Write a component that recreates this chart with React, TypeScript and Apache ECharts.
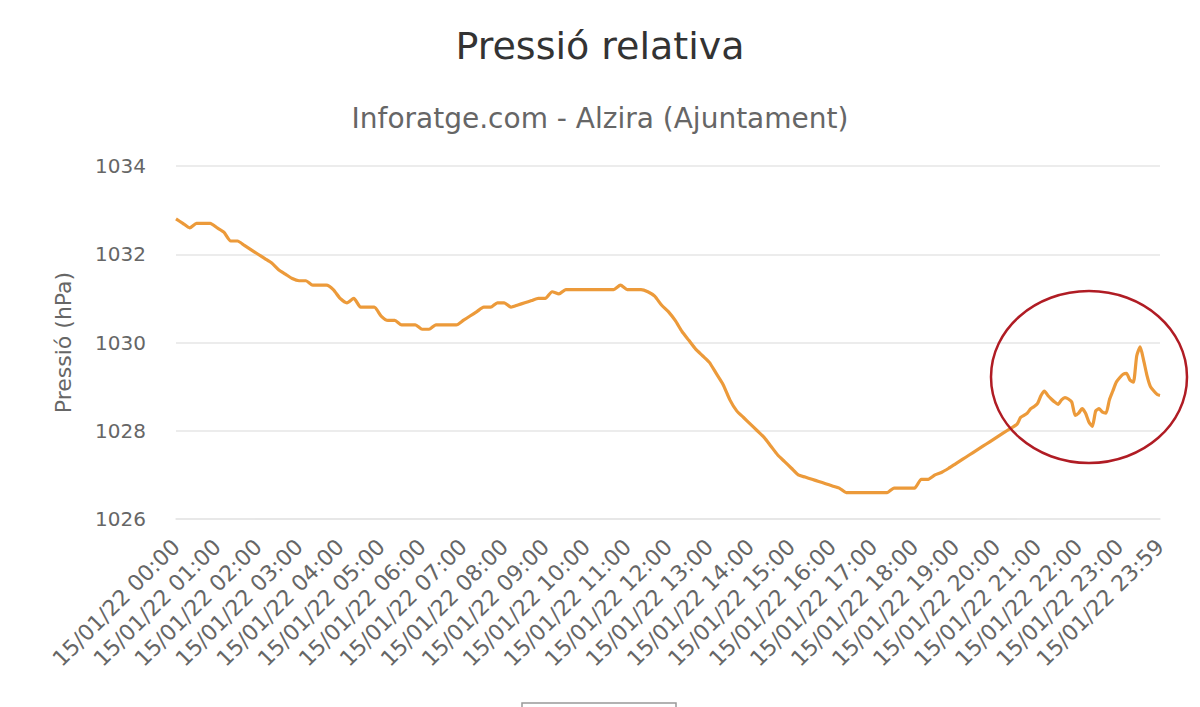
import React, { useEffect, useRef } from "react";
import * as echarts from "echarts";

const titleText = "Pressió relativa";
const subtitleText = "Inforatge.com - Alzira (Ajuntament)";
const yAxisName = "Pressió (hPa)";
const datePrefix = "15/01/22";

// minutes since 00:00
const minutes: number[] = [
  0, 10, 20, 30, 40, 50, 60, 70, 80, 90, 100, 110, 120, 130, 140, 150, 160, 170, 180, 190,
  200, 210, 220, 230, 240, 250, 260, 270, 280, 290, 300, 310, 320, 330, 340, 350, 360, 370, 380, 390,
  400, 410, 420, 430, 440, 450, 460, 470, 480, 490, 500, 510, 520, 530, 540, 550, 560, 570, 580, 590,
  600, 610, 620, 630, 640, 650, 660, 670, 680, 690, 700, 710, 720, 730, 740, 750, 760, 770, 780, 790,
  800, 810, 820, 830, 840, 850, 860, 870, 880, 890, 900, 910, 920, 930, 940, 950, 960, 970, 980, 990,
  1000, 1010, 1020, 1030, 1040, 1050, 1060, 1070, 1080, 1090, 1100, 1110, 1120, 1130, 1140, 1150, 1160, 1170, 1180, 1190,
  1200, 1210, 1220, 1230, 1235, 1240, 1245, 1250, 1255, 1260, 1265, 1270, 1275, 1280, 1285, 1290, 1295, 1300, 1305, 1310,
  1315, 1320, 1325, 1330, 1335, 1340, 1345, 1350, 1355, 1360, 1365, 1370, 1375, 1380, 1385, 1390, 1395, 1400, 1405, 1410,
  1415, 1420, 1425, 1430, 1435, 1439,
];

const pressure: number[] = [
  1032.8, 1032.7, 1032.6, 1032.7, 1032.7, 1032.7, 1032.6, 1032.5, 1032.3, 1032.3, 1032.2, 1032.1, 1032.0, 1031.9, 1031.8, 1031.65, 1031.55, 1031.45, 1031.4, 1031.4,
  1031.3, 1031.3, 1031.3, 1031.2, 1031.0, 1030.9, 1031.0, 1030.8, 1030.8, 1030.8, 1030.6, 1030.5, 1030.5, 1030.4, 1030.4, 1030.4, 1030.3, 1030.3, 1030.4, 1030.4,
  1030.4, 1030.4, 1030.5, 1030.6, 1030.7, 1030.8, 1030.8, 1030.9, 1030.9, 1030.8, 1030.85, 1030.9, 1030.95, 1031.0, 1031.0, 1031.15, 1031.1, 1031.2, 1031.2, 1031.2,
  1031.2, 1031.2, 1031.2, 1031.2, 1031.2, 1031.3, 1031.2, 1031.2, 1031.2, 1031.15, 1031.05, 1030.85, 1030.7, 1030.5, 1030.25, 1030.05, 1029.85, 1029.7, 1029.55, 1029.3,
  1029.05, 1028.7, 1028.45, 1028.3, 1028.15, 1028.0, 1027.85, 1027.65, 1027.45, 1027.3, 1027.15, 1027.0, 1026.95, 1026.9, 1026.85, 1026.8, 1026.75, 1026.7, 1026.6, 1026.6,
  1026.6, 1026.6, 1026.6, 1026.6, 1026.6, 1026.7, 1026.7, 1026.7, 1026.7, 1026.9, 1026.9, 1027.0, 1027.06, 1027.15, 1027.25, 1027.35, 1027.45, 1027.55, 1027.65, 1027.75,
  1027.85, 1027.95, 1028.05, 1028.15, 1028.3, 1028.35, 1028.4, 1028.5, 1028.55, 1028.62, 1028.8, 1028.9, 1028.8, 1028.72, 1028.65, 1028.6, 1028.7, 1028.75, 1028.72, 1028.65,
  1028.35, 1028.4, 1028.5, 1028.4, 1028.2, 1028.1, 1028.45, 1028.5, 1028.42, 1028.4, 1028.7, 1028.9, 1029.1, 1029.2, 1029.28, 1029.3, 1029.15, 1029.1, 1029.7, 1029.9,
  1029.6, 1029.25, 1029.0, 1028.9, 1028.82, 1028.8,
];

const yMin = 1026;
const yMax = 1034;
const yStep = 2;
const xMin = 0;
const xMax = 1439;
const xStep = 60;

const pad = (n: number) => (n < 10 ? "0" + n : "" + n);
const fmtTime = (v: number) => `${datePrefix} ${pad(Math.floor(v / 60))}:${pad(Math.round(v % 60))}`;

export default function App() {
  const ref = useRef<HTMLDivElement>(null);
  useEffect(() => {
    if (!ref.current) return;
    const chart = echarts.init(ref.current, null, { renderer: "svg" });
    const font = "DejaVu Sans";
    chart.setOption({
      animation: false,
      backgroundColor: "#ffffff",
      title: [
        {
          text: titleText,
          left: "center",
          top: 22,
          textStyle: { fontFamily: font, fontSize: 38, fontWeight: "normal", color: "#333333" },
        },
        {
          text: subtitleText,
          left: "center",
          top: 99,
          textStyle: { fontFamily: font, fontSize: 28, fontWeight: "normal", color: "#666666" },
        },
      ],
      grid: { left: 176, right: 40, top: 166, bottom: 188, containLabel: false },
      xAxis: {
        type: "value",
        min: xMin,
        max: xMax,
        interval: xStep,
        axisLine: { show: true, lineStyle: { color: "#e6e6e6", width: 1.5 } },
        axisTick: { show: false },
        splitLine: { show: false },
        axisLabel: {
          rotate: 45,
          margin: 24,
          fontFamily: font,
          fontSize: 22,
          color: "#666666",
          formatter: (v: number) => fmtTime(v),
        },
      },
      yAxis: {
        type: "value",
        min: yMin,
        max: yMax,
        interval: yStep,
        name: yAxisName,
        nameLocation: "middle",
        nameGap: 102,
        nameTextStyle: { fontFamily: font, fontSize: 22, color: "#666666" },
        axisLine: { show: false },
        axisTick: { show: false },
        splitLine: { lineStyle: { color: "#e6e6e6", width: 1.5 } },
        axisLabel: {
          fontFamily: font,
          fontSize: 20,
          color: "#666666",
          margin: 30,
          formatter: (v: number) => String(v),
        },
      },
      series: [
        {
          type: "line",
          data: minutes.map((m, i) => [m, pressure[i]]),
          showSymbol: false,
          smooth: 0.2,
          lineStyle: { color: "#ec9a3a", width: 3.2 },
          itemStyle: { color: "#ec9a3a" },
        },
      ],
      graphic: [
        {
          type: "ellipse",
          shape: { cx: 1089, cy: 377, rx: 98, ry: 86 },
          style: { fill: "none", stroke: "#b01c24", lineWidth: 2.5 },
          z: 10,
        },
        {
          type: "rect",
          shape: { x: 522, y: 703, width: 154, height: 20 },
          style: { fill: "#ffffff", stroke: "#999999", lineWidth: 1.5 },
        },
      ],
    });
    return () => chart.dispose();
  }, []);
  return <div ref={ref} style={{ position: "fixed", left: 0, top: 0, width: 1200, height: 707 }} />;
}
